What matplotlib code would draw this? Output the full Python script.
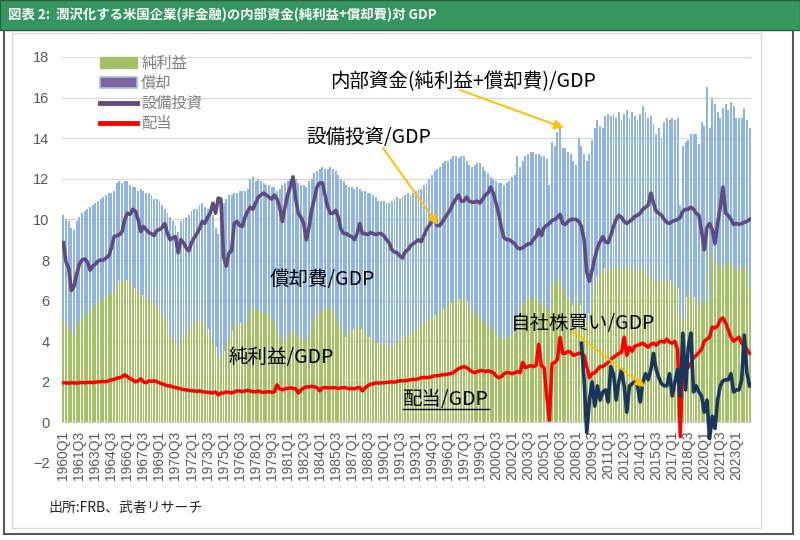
import numpy as np
import matplotlib
matplotlib.use("Agg")
import matplotlib.pyplot as plt
from matplotlib.patches import Rectangle, Patch
from matplotlib.lines import Line2D

CJK = ['Noto Sans CJK JP', 'DejaVu Sans']
plt.rcParams['font.family'] = CJK

# ---------------- data (ratio to GDP, %) ----------------
quarters = [f"{1960 + k // 4}Q{k % 4 + 1}" for k in range(258)]   # 1960Q1 .. 2024Q2

net_income = [
    5.2, 4.8, 4.7, 4.4,  4.3, 4.8, 5.0, 5.2,  5.3, 5.4, 5.5, 5.7,  5.8, 6.0, 6.0, 6.1,   # 1960-63
    6.3, 6.4, 6.3, 6.4,  6.9, 7.0, 6.9, 7.1,  7.0, 6.8, 6.7, 6.6,  6.4, 6.3, 6.3, 6.2,   # 1964-67
    6.0, 6.0, 5.9, 5.8,  5.6, 5.4, 5.1, 4.8,  4.3, 4.2, 4.0, 3.7,  4.2, 4.3, 4.4, 4.6,   # 1968-71
    4.8, 4.9, 5.0, 5.1,  5.0, 4.8, 4.6, 4.4,  4.0, 3.7, 3.3, 3.2,  3.5, 3.8, 4.2, 4.5,   # 1972-75
    4.8, 5.0, 4.9, 4.8,  4.9, 5.0, 5.7, 5.6,  5.5, 5.6, 5.5, 5.5,  5.4, 5.3, 5.1, 5.0,   # 1976-79
    4.5, 4.2, 4.2, 4.0,  4.3, 4.4, 4.6, 4.5,  4.2, 4.2, 4.1, 4.0,  4.4, 4.8, 5.1, 5.3,   # 1980-83
    5.5, 5.6, 5.6, 5.7,  5.6, 5.5, 5.4, 5.0,  4.6, 4.4, 4.2, 4.4,  4.5, 4.6, 4.8, 4.7,   # 1984-87
    4.6, 4.5, 4.3, 4.2,  4.1, 4.0, 3.9, 3.8,  3.9, 4.0, 3.7, 3.8,  3.9, 4.0, 4.1, 4.1,   # 1988-91
    4.2, 4.4, 4.3, 4.5,  4.6, 4.7, 4.8, 5.0,  5.0, 5.1, 5.2, 5.3,  5.4, 5.5, 5.6, 5.7,   # 1992-95
    5.8, 5.9, 6.0, 6.0,  6.1, 6.1, 6.2, 6.0,  5.7, 5.5, 5.4, 5.3,  5.2, 5.0, 4.9, 4.8,   # 1996-99
    4.7, 4.5, 4.5, 4.3,  4.2, 4.1, 4.2, 4.2,  4.3, 4.6, 5.2, 5.6,  5.8, 6.0, 6.2, 6.2,   # 2000-03
    6.1, 6.2, 6.0, 5.8,  6.0, 5.7, 5.5, 6.8,  7.0, 6.9, 7.3, 6.6,  6.3, 6.2, 6.0, 5.8,   # 2004-07
    5.9, 6.3, 5.8, 5.4,  5.0, 5.4, 6.2, 6.8,  7.2, 7.3, 7.5, 7.6,  7.5, 7.6, 7.7, 7.6,   # 2008-11
    7.7, 7.5, 7.6, 7.7,  7.4, 7.6, 7.5, 7.3,  7.5, 7.7, 7.4, 7.3,  7.2, 7.1, 6.9, 7.0,   # 2012-15
    6.8, 7.0, 7.1, 7.0,  6.9, 6.7, 6.6, 5.4,  5.0, 6.2, 6.4, 6.3,  6.2, 6.1, 5.8, 6.2,   # 2016-19
    5.8, 8.5, 6.0, 8.4,  8.0, 7.8, 7.5, 7.8,  7.7, 7.9, 8.0, 7.7,  7.4, 7.6, 7.5, 7.8,   # 2020-23
    7.6, 6.6,                                                                            # 2024
]

depreciation = [
    5.0, 5.2, 5.2, 5.2,  5.2, 5.1, 5.1, 5.1,  5.1, 5.1, 5.1, 5.0,  5.0, 4.9, 5.0, 5.0,   # 1960-63
    4.9, 4.9, 5.0, 5.0,  4.9, 4.9, 4.9, 4.8,  4.9, 4.9, 4.9, 5.0,  5.0, 5.2, 5.1, 5.1,   # 1964-67
    5.3, 5.2, 5.1, 5.2,  5.3, 5.3, 5.4, 5.5,  5.8, 5.7, 5.7, 5.7,  5.7, 5.7, 5.7, 5.6,   # 1968-71
    5.6, 5.6, 5.5, 5.6,  5.8, 5.8, 5.9, 6.0,  6.2, 5.9, 6.0, 7.0,  7.3, 7.2, 7.0, 6.7,   # 1972-75
    6.5, 6.3, 6.5, 6.6,  6.5, 6.5, 6.3, 6.5,  6.4, 6.4, 6.4, 6.3,  6.3, 6.4, 6.5, 6.6,   # 1976-79
    6.9, 7.3, 7.5, 7.8,  7.6, 7.6, 7.5, 7.5,  7.6, 7.5, 7.6, 7.6,  7.5, 7.2, 7.2, 7.1,   # 1980-83
    7.0, 7.0, 6.9, 6.8,  7.0, 7.0, 7.0, 7.2,  7.4, 7.5, 7.5, 7.2,  7.1, 6.9, 6.8, 6.8,   # 1984-87
    6.8, 6.9, 7.0, 7.1,  7.1, 7.1, 7.0, 7.1,  7.0, 6.8, 7.1, 7.1,  7.1, 7.1, 6.9, 7.0,   # 1988-91
    7.0, 6.9, 6.9, 6.8,  6.8, 6.8, 6.7, 6.7,  6.8, 6.9, 7.0, 7.1,  7.1, 7.1, 7.2, 7.2,   # 1992-95
    7.1, 7.1, 7.1, 7.1,  6.9, 7.0, 6.9, 6.9,  7.0, 7.1, 7.3, 7.5,  7.6, 7.6, 7.5, 7.5,   # 1996-99
    7.4, 7.5, 7.4, 7.5,  7.6, 7.6, 7.6, 7.7,  7.8, 7.6, 7.9, 7.0,  7.1, 7.1, 7.0, 7.1,   # 2000-03
    7.2, 7.0, 7.2, 7.3,  7.1, 7.3, 6.2, 7.0,  6.6, 7.4, 7.3, 6.9,  7.2, 7.1, 7.2, 7.1,   # 2004-07
    6.8, 7.7, 7.8, 7.8,  7.9, 7.8, 7.7, 7.7,  7.7, 7.3, 7.0, 7.5,  7.7, 7.5, 7.5, 7.4,   # 2008-11
    7.6, 7.4, 7.6, 7.7,  7.6, 7.7, 7.6, 7.6,  7.7, 7.9, 7.9, 7.7,  7.9, 7.6, 7.3, 7.5,   # 2012-15
    7.2, 7.8, 7.9, 7.9,  8.1, 8.2, 8.4, 5.3,  8.6, 7.6, 7.5, 7.9,  8.0, 8.1, 7.9, 8.6,   # 2016-19
    8.8, 8.0, 8.5, 7.6,  7.7, 7.5, 7.5, 7.7,  8.0, 7.5, 7.8, 7.9,  7.6, 7.4, 7.5, 7.7,   # 2020-23
    7.3, 7.9,                                                                            # 2024
]

capex = [
    8.85, 7.9, 7.6, 6.5,  6.7, 7.3, 7.8, 8.0,  8.05, 7.9, 7.5, 7.7,  7.8, 7.95, 8.0, 8.0,      # 1960-63
    8.1, 8.2, 8.6, 9.15,  9.2, 9.25, 9.4, 10.0,  10.3, 10.25, 10.5, 10.4,  10.0, 9.4, 9.65, 9.5,  # 1964-67
    9.35, 9.3, 9.2, 9.45,  9.5, 9.6, 9.8, 9.3,  9.0, 9.1, 9.15, 8.35,  9.0, 8.85, 8.6, 8.45,   # 1968-71
    8.85, 9.1, 9.3, 9.55,  9.9, 9.8, 10.1, 10.3,  10.8, 10.3, 11.05, 11.0,  8.15, 7.7, 8.35, 8.45,  # 1972-75
    9.8, 9.9, 9.7, 9.65,  10.1, 10.4, 10.6, 10.5,  10.8, 11.1, 11.2, 11.3,  11.2, 11.1, 11.0, 11.2,  # 1976-79
    11.0, 10.6, 9.9, 10.6,  11.2, 11.6, 12.1, 11.0,  10.3, 10.1, 9.8, 9.0,  9.6, 10.5, 11.0, 11.6,  # 1980-83
    11.8, 11.8, 11.2, 10.6,  10.3, 10.3, 10.45, 10.1,  9.5, 9.3, 9.3, 9.2,  9.15, 9.0, 9.3, 9.8,   # 1984-87
    9.3, 9.3, 9.25, 9.35,  9.3, 9.25, 9.3, 9.3,  9.2, 9.0, 8.85, 8.5,  8.4, 8.35, 8.2, 8.1,     # 1988-91
    8.4, 8.5, 8.7, 8.8,  8.9, 9.0, 8.9, 9.2,  9.5, 9.7, 9.9, 10.1,  9.7, 9.7, 9.9, 10.1,       # 1992-95
    10.3, 10.5, 10.8, 11.0,  11.2, 10.9, 10.9, 11.1,  10.9, 10.85, 10.85, 10.9,  10.8, 11.0, 11.2, 11.3,  # 1996-99
    11.6, 11.3, 10.8, 10.3,  9.6, 9.1, 9.0, 9.0,  8.9, 8.8, 8.6, 8.55,  8.6, 8.7, 8.8, 8.8,    # 2000-03
    9.0, 9.15, 9.5, 9.2,  9.6, 9.7, 9.8, 9.95,  10.0, 10.1, 10.25, 9.8,  9.75, 9.9, 10.0, 10.0,  # 2004-07
    10.0, 9.9, 9.65, 9.0,  7.4, 6.95, 7.5, 8.1,  8.6, 8.9, 9.15, 8.9,  8.85, 9.2, 9.65, 10.0,  # 2008-11
    10.2, 10.1, 9.9, 9.8,  9.9, 10.0, 10.15, 10.2,  10.3, 10.5, 10.6, 10.7,  11.3, 10.8, 10.4, 10.3,  # 2012-15
    10.2, 10.0, 9.85, 9.8,  9.9, 9.95, 10.0, 10.1,  10.4, 10.5, 10.5, 10.6,  10.5, 10.3, 10.2, 9.4,  # 2016-19
    8.5, 9.6, 9.8, 9.5,  8.8, 9.8, 10.6, 11.6,  10.3, 10.2, 10.0, 9.75,  9.8, 9.75, 9.8, 9.85,  # 2020-23
    9.9, 10.0,                                                                                    # 2024
]

dividends = [
    1.95, 1.95, 1.93, 1.95,  1.95, 1.93, 1.95, 1.97,  1.95, 1.97, 1.98, 1.96,  1.98, 2.0, 2.0, 2.02,   # 1960-63
    2.0, 2.05, 2.1, 2.12,  2.18, 2.2, 2.25, 2.35,  2.25, 2.15, 2.1, 2.0,  2.05, 2.15, 2.0, 1.95,       # 1964-67
    2.05, 2.02, 2.05, 2.0,  1.95, 1.9, 1.85, 1.8,  1.8, 1.75, 1.72, 1.68,  1.65, 1.62, 1.6, 1.58,     # 1968-71
    1.56, 1.55, 1.53, 1.55,  1.52, 1.5, 1.48, 1.47,  1.45, 1.5, 1.35, 1.45,  1.45, 1.5, 1.48, 1.45,   # 1972-75
    1.5, 1.55, 1.55, 1.52,  1.55, 1.58, 1.55, 1.52,  1.5, 1.55, 1.5, 1.48,  1.5, 1.52, 1.48, 1.5,     # 1976-79
    1.85, 1.65, 1.62, 1.65,  1.68, 1.7, 1.68, 1.65,  1.45, 1.6, 1.7, 1.75,  1.75, 1.78, 1.75, 1.72,   # 1980-83
    1.55, 1.7, 1.72, 1.7,  1.7, 1.72, 1.7, 1.68,  1.7, 1.72, 1.7, 1.65,  1.68, 1.65, 1.7, 1.72,       # 1984-87
    1.55, 1.7, 1.8, 1.88,  1.9, 1.95, 1.93, 1.95,  1.95, 1.97, 1.98, 2.0,  1.98, 2.02, 2.05, 2.05,    # 1988-91
    2.05, 2.08, 2.1, 2.12,  2.12, 2.15, 2.2, 2.22,  2.2, 2.22, 2.25, 2.3,  2.3, 2.32, 2.35, 2.35,     # 1992-95
    2.38, 2.4, 2.45, 2.55,  2.65, 2.7, 2.75, 2.7,  2.6, 2.5, 2.45, 2.5,  2.55, 2.55, 2.5, 2.55,       # 1996-99
    2.5, 2.45, 2.3, 2.2,  2.25, 2.4, 2.45, 2.45,  2.4, 2.45, 2.5, 2.45,  2.95, 2.7, 2.75, 2.8,        # 2000-03
    2.75, 2.8, 3.85, 2.8,  2.7, 1.3, 0.1, 2.9,  2.95, 3.1, 4.2, 3.4,  3.4, 3.5, 3.45, 3.3,           # 2004-07
    3.35, 3.4, 3.4, 3.3,  2.75, 2.2, 2.4, 2.45,  2.6, 2.75, 2.75, 2.85,  2.95, 3.1, 3.2, 3.3,         # 2008-11
    3.4, 3.45, 4.2, 3.3,  3.7, 3.5, 3.75, 3.8,  3.85, 3.9, 3.8, 3.7,  3.85, 3.9, 3.8, 3.95,          # 2012-15
    4.0, 3.95, 4.1, 3.95,  3.9, 4.0, 3.6, -0.7,  3.3, 3.0, 2.7, 2.9,  3.2, 3.3, 3.45, 3.6,           # 2016-19
    4.0, 4.1, 4.2, 4.7,  4.65, 4.75, 5.05, 5.15,  4.9, 4.55, 4.2, 4.0,  4.1, 4.2, 3.9, 3.8,          # 2020-23
    3.6, 3.4,                                                                                      # 2024
]

# buybacks: available from 2008Q3 (index 194) onward
buyback_start = 194
buybacks = [
    3.9, 2.1,                                   # 2008Q3-Q4
    -0.5, 1.1, 2.0, 0.8,                        # 2009
    1.8, 1.1, 1.5, 1.6,                         # 2010
    1.0, 2.75, 2.4, 1.1,                        # 2011
    2.0, 2.6, 1.8, 0.5,                         # 2012
    1.8, 1.9, 2.0, 1.8,                         # 2013
    1.0, 2.0, 2.4, 2.1,                         # 2014
    2.6, 3.4, 2.6, 2.2,                         # 2015
    1.9, 1.8, 1.8, 2.4,                         # 2016
    1.3, 2.0, 2.6, 1.3,                         # 2017
    4.4, 1.6, 3.7, 4.4,                         # 2018
    1.5, 1.8, 1.5, 1.3,                         # 2019
    0.5, 1.1, -0.8, 0.3,                        # 2020
    -0.3, 1.1, 1.8, 2.05,                       # 2021
    2.1, 2.1, 2.4, 1.5,                         # 2022
    1.6, 1.6, 2.1, 4.3,                         # 2023
    2.4, 1.8,                                   # 2024
]

legend_labels = ['純利益', '償却', '設備投資', '配当']
title = '図表 2:  潤沢化する米国企業(非金融)の内部資金(純利益+償却費)対 GDP'
source = '出所:FRB、武者リサーチ'

# ---------------- colours ----------------
C_GREEN = '#A4C265'
C_BLUE = '#8DB4E2'
C_PURPLE = '#5E4B80'
C_RED = '#FF0000'
C_NAVY = '#1B365D'
C_ARROW = '#FFC000'
C_GRID = '#D9D9D9'
C_TICK = '#595959'

# ---------------- figure ----------------
fig = plt.figure(figsize=(8, 5.4), dpi=100)
W, H = 800, 540

def fx(px):
    return px / W

def fy(py):
    return 1 - py / H

# title bar
fig.patches.append(Rectangle((0, fy(30)), 1, 30 / H, transform=fig.transFigure,
                             facecolor='#36965F', edgecolor='#2B5E40', lw=1.0, zorder=0))
fig.text(fx(8), fy(15), title, color='white', fontsize=9.6, fontweight='bold',
         va='center', ha='left', family=CJK)
# outer frame and inner panel
fig.patches.append(Rectangle((fx(4), fy(534)), (793 - 4) / W, (534 - 30) / H,
                             transform=fig.transFigure, facecolor='white',
                             edgecolor='#595959', lw=1.5, zorder=-2))
fig.patches.append(Rectangle((fx(12), fy(528)), (761 - 12) / W, (528 - 33) / H,
                             transform=fig.transFigure, facecolor='none',
                             edgecolor=C_GRID, lw=1.0, zorder=-1))

ax = fig.add_axes([fx(62), fy(463), (751 - 62) / W, (463 - 57) / H])
ax.set_facecolor('none')

n = len(quarters)
x = np.arange(n)
ax.bar(x, net_income, width=0.68, color=C_GREEN, linewidth=0, zorder=2)
ax.bar(x, depreciation, bottom=net_income, width=0.72, color=C_BLUE, linewidth=0, zorder=2)
ax.plot(x, capex, color=C_PURPLE, lw=2.6, zorder=4, solid_joinstyle='round')
ax.plot(x, dividends, color=C_RED, lw=2.5, zorder=5, solid_joinstyle='round')
xb = np.arange(buyback_start, buyback_start + len(buybacks))
ax.plot(xb, buybacks, color=C_NAVY, lw=2.6, zorder=6, solid_joinstyle='round')

ax.set_xlim(-0.5, n - 0.5)
ax.set_ylim(-2, 18)
ax.set_yticks(np.arange(-2, 19, 2))
ax.yaxis.grid(True, color=C_GRID, lw=0.9, zorder=0)
ax.set_axisbelow(True)
for s in ['top', 'right', 'left']:
    ax.spines[s].set_visible(False)
ax.spines['bottom'].set_position(('data', 0))
ax.spines['bottom'].set_color(C_GRID)
ax.spines['bottom'].set_zorder(1)

tick_idx = list(range(0, n, 6))
ax.set_xticks(tick_idx)
ax.set_xticklabels([quarters[k] for k in tick_idx], rotation=90,
                   family=['Liberation Sans', 'DejaVu Sans'], fontsize=10, color=C_TICK)
ax.tick_params(axis='x', length=0, pad=6)
ax.tick_params(axis='y', length=0, pad=9, labelsize=10.5, labelcolor=C_TICK)
for t in ax.get_yticklabels():
    t.set_family(['Liberation Sans', 'DejaVu Sans'])

# legend
handles = [Patch(facecolor=C_GREEN, edgecolor=C_GREEN),
           Patch(facecolor='#8064A2', edgecolor='#9DC3E6', lw=1.2),
           Line2D([], [], color=C_PURPLE, lw=3.5),
           Line2D([], [], color=C_RED, lw=3.5)]
leg = fig.legend(handles, legend_labels, loc='upper left',
                 bbox_to_anchor=(fx(100), fy(55)), frameon=False,
                 prop={'family': CJK, 'size': 11}, labelcolor='#7F7F7F',
                 handlelength=2.4, handleheight=0.75, handletextpad=0.3,
                 labelspacing=0.2, borderpad=0, borderaxespad=0)

# annotations
def px2data(px, py):
    return ((px - 62) / 2.6705 - 0.5, (422.4 - py) / 20.3)

txt_kw = dict(fontsize=14, color='black', ha='center', va='center', family=CJK, zorder=8)
ax.text(*px2data(463, 82), '内部資金(純利益+償却費)/GDP', **txt_kw)
ax.text(*px2data(369, 137), '設備投資/GDP', **txt_kw)
ax.text(*px2data(322, 280), '償却費/GDP', **txt_kw)
ax.text(*px2data(281, 357), '純利益/GDP', **txt_kw)
t_div = ax.text(*px2data(446, 400), '配当/GDP', **txt_kw)
ax.text(*px2data(583, 323), '自社株買い/GDP', **txt_kw)

arrow_kw = dict(arrowstyle='-|>', color=C_ARROW, lw=1.4, mutation_scale=14, shrinkA=0, shrinkB=0)
for tail, tip in [((460, 90), (564, 128)), ((383, 148), (438, 225)), ((572, 331), (645, 387))]:
    ax.annotate('', xy=px2data(*tip), xytext=px2data(*tail), arrowprops=arrow_kw, zorder=9)

# underline under 配当/GDP
fig.canvas.draw()
bb = t_div.get_window_extent(renderer=fig.canvas.get_renderer())
inv = fig.transFigure.inverted()
(x0, y0), (x1, _) = inv.transform([(bb.x0, bb.y0 + 2), (bb.x1, bb.y0)])
fig.add_artist(Line2D([x0, x1], [y0, y0], transform=fig.transFigure, color='black', lw=1.0))

fig.text(fx(48), fy(508), source, fontsize=10, color='#262626', va='center', ha='left', family=CJK)

fig.savefig('out.png', dpi=100)
